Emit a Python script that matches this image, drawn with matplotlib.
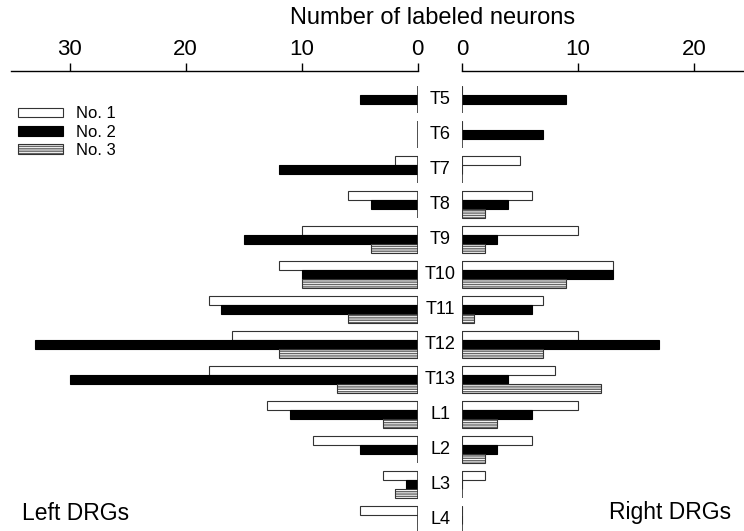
import numpy as np
import matplotlib.pyplot as plt
from matplotlib.patches import Patch
from matplotlib.transforms import blended_transform_factory

plt.rcParams['font.family'] = ['Liberation Sans', 'DejaVu Sans']

# segments (top to bottom)
segments = ['T5', 'T6', 'T7', 'T8', 'T9', 'T10', 'T11', 'T12', 'T13', 'L1', 'L2', 'L3', 'L4']

# left DRGs
left_no1 = [0, 0, 2, 6, 10, 12, 18, 16, 18, 13, 9, 3, 5]
left_no2 = [5, 0, 12, 4, 15, 10, 17, 33, 30, 11, 5, 1, 0]
left_no3 = [0, 0, 0, 0, 4, 10, 6, 12, 7, 3, 0, 2, 0]

# right DRGs
right_no1 = [0, 0, 5, 6, 10, 13, 7, 10, 8, 10, 6, 2, 0]
right_no2 = [9, 7, 0, 4, 3, 13, 6, 17, 4, 6, 3, 0, 0]
right_no3 = [0, 0, 0, 2, 2, 9, 1, 7, 12, 3, 2, 0, 0]

fig = plt.figure(figsize=(7.44, 5.31), dpi=100)
ax_l = fig.add_axes([11 / 744, 0, (417.7 - 11) / 744, (531 - 70.7) / 531])
ax_r = fig.add_axes([462 / 744, 0, (744 - 462) / 744, (531 - 70.7) / 531])

y = np.arange(len(segments))
h = 0.25
edge = '#333333'
hatch_col = '#666666'


def draw_side(ax, no1, no2, no3):
    ax.barh(y - h, no1, height=h, color='white', edgecolor=edge, linewidth=0.8)
    ax.barh(y, no2, height=h, color='black', edgecolor='black', linewidth=0.8)
    # hatched series: gray lines, then black outline
    no3 = np.array(no3)
    m = no3 > 0
    ax.barh(y[m] + h, no3[m], height=h, color='white', edgecolor=hatch_col,
            linewidth=0, hatch='-------')
    ax.barh(y[m] + h, no3[m], height=h, fill=False, edgecolor=edge, linewidth=0.8)
    ax.vlines(np.zeros(len(y)), y - 1.5 * h, y + 1.5 * h, color=edge, linewidth=1.2)
    ax.set_ylim(12.33, -0.823)
    ax.set_yticks([])
    for s in ['left', 'right', 'bottom']:
        ax.spines[s].set_visible(False)
    ax.spines['top'].set_linewidth(1.0)
    ax.xaxis.tick_top()
    ax.tick_params(axis='x', direction='out', length=6, width=1.0,
                   labelsize=16, pad=2)


draw_side(ax_l, left_no1, left_no2, left_no3)
ax_l.set_xlim((417.7 - 11) / 11.6, 0)
ax_l.set_xticks([0, 10, 20, 30])

draw_side(ax_r, right_no1, right_no2, right_no3)
ax_r.set_xlim(0, (744 - 462) / 11.6)
ax_r.set_xticks([0, 10, 20])

# segment labels between the two halves
tr = blended_transform_factory(fig.transFigure, ax_r.transData)
for yi, name in zip(y, segments):
    fig.text(440 / 744, yi, name, transform=tr, ha='center', va='center', fontsize=13)

fig.text(433 / 744, 1 - 18 / 531, 'Number of labeled neurons', ha='center', va='center', fontsize=17)
fig.text(22 / 744, 1 - 513 / 531, 'Left DRGs', ha='left', va='center', fontsize=16.5)
fig.text(731 / 744, 1 - 513 / 531, 'Right DRGs', ha='right', va='center', fontsize=16.5)

# legend
handles = [
    Patch(facecolor='white', edgecolor=edge, linewidth=0.8),
    Patch(facecolor='black', edgecolor='black', linewidth=0.8),
    (Patch(facecolor='white', edgecolor=hatch_col, linewidth=0, hatch='-------'),
     Patch(fill=False, edgecolor=edge, linewidth=0.8)),
]
ax_l.legend(handles, ['No. 1', 'No. 2', 'No. 3'], loc='upper left',
            bbox_to_anchor=(-0.0074, 0.944), frameon=False, fontsize=12,
            handlelength=2.7, handleheight=0.5, labelspacing=0.2,
            handletextpad=0.8, borderaxespad=0.2)

fig.savefig('out.png', dpi=100)
